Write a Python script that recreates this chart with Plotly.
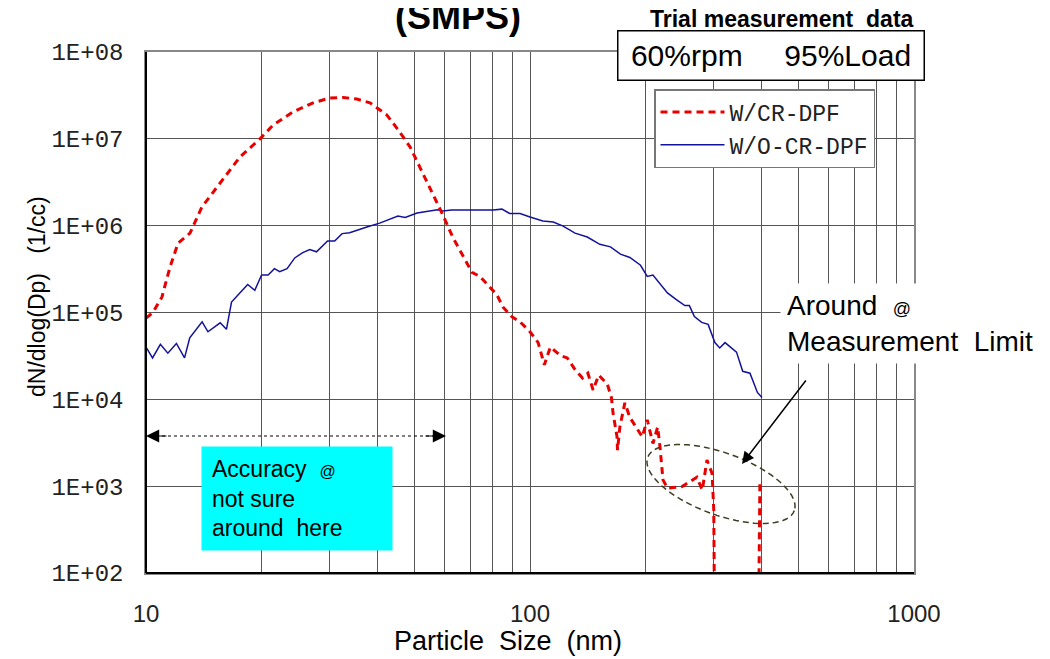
import numpy as np
import plotly.graph_objects as go

# ---------------- data ----------------
size_cr = [10.0, 10.42, 11.0, 11.54, 12.12, 13.02, 13.98, 15.13, 16.25, 17.58, 19.81, 21.43,
           24.13, 27.23, 30.1, 32.6, 35.4, 38.3, 42.4, 45.0, 48.7, 52.6, 55.8, 59.3, 62.9,
           66.5, 70.6, 74.1, 77.3, 82.0, 85.0, 89.8, 94.2, 100, 105, 109, 113, 120, 125, 131,
           137, 141.5, 146, 151, 159, 163, 164.5, 168.5, 169, 171.4, 176.6, 182, 196, 202,
           209, 215, 218, 222, 228, 249, 272, 281, 289, 298, 301, 304, 391, 397]
dn_cr = [8.6e4, 1.0e5, 1.5e5, 3.3e5, 6.3e5, 8.2e5, 1.64e6, 2.6e6, 4.0e6, 6.2e6, 1.0e7, 1.44e7,
         2.04e7, 2.6e7, 2.95e7, 3.0e7, 2.87e7, 2.6e7, 1.88e7, 1.33e7, 8.1e6, 4.0e6, 2.4e6, 1.33e6, 7.4e5,
         4.8e5, 2.9e5, 2.6e5, 2.1e5, 1.6e5, 1.16e5, 8.9e4, 7.8e4, 6.0e4, 4.5e4, 2.5e4, 4.0e4, 3.2e4, 3.0e4, 2.2e4,
         1.76e4, 2.0e4, 1.28e4, 1.9e4, 1.5e4, 1.04e4, 7.0e3, 3.7e3, 2.6e3, 4.8e3, 9.1e3, 6.2e3, 3.7e3, 5.8e3,
         3.1e3, 4.8e3, 2.85e3, 1.18e3, 9.5e2, 9.9e2, 1.27e3, 9.0e2, 2.0e3, 1.4e3, 5.3e2, 1, 1, 1.2e3]

size_nocr = [10.0, 10.4, 10.9, 11.4, 12.0, 12.6, 13.0, 14.0, 14.5, 15.6, 16.2, 16.7, 17.6, 18.4,
             19.2, 20.0, 20.8, 21.6, 22.3, 23.3, 24.4, 25.6, 26.7, 27.8, 29.7, 31.0, 32.4, 33.9,
             37.6, 40.6, 45.3, 47.3, 50.8, 54.0, 57.4, 59.3, 62.5, 80.2, 84.5, 88.5, 94.2, 100,
             108, 115, 122, 131, 141, 152, 162, 172, 182, 194, 202, 209, 228, 241, 253, 260, 268,
             280, 291, 303, 312, 322, 345, 358, 374, 391, 402]
dn_nocr = [4.0e4, 3.0e4, 4.3e4, 3.4e4, 4.4e4, 3.0e4, 5.1e4, 7.8e4, 6.0e4, 7.6e4, 6.4e4, 1.32e5, 1.7e5, 2.1e5,
           1.8e5, 2.7e5, 2.7e5, 3.2e5, 2.95e5, 3.2e5, 4.25e5, 4.9e5, 5.3e5, 5.0e5, 6.65e5, 6.65e5, 8.1e5, 8.3e5,
           9.65e5, 1.07e6, 1.29e6, 1.24e6, 1.4e6, 1.45e6, 1.52e6, 1.48e6, 1.52e6, 1.52e6, 1.55e6, 1.38e6, 1.38e6, 1.26e6,
           1.13e6, 1.10e6, 9.9e5, 8.2e5, 7.4e5, 6.1e5, 5.7e5, 4.7e5, 4.3e5, 3.5e5, 2.6e5, 2.7e5, 1.68e5, 1.4e5, 1.2e5, 1.2e5, 9.0e4,
           7.7e4, 7.3e4, 4.5e4, 3.9e4, 4.5e4, 3.5e4, 2.1e4, 2.0e4, 1.2e4, 1.05e4]

series_names = ["W/CR-DPF", "W/O-CR-DPF"]
x_tick_vals = [10, 20, 30, 40, 50, 60, 70, 80, 90, 100, 200, 300, 400, 500, 600, 700, 800, 900, 1000]
x_tick_text = ["10", "", "", "", "", "", "", "", "", "100", "", "", "", "", "", "", "", "", "1000"]
y_tick_vals = [1e2, 1e3, 1e4, 1e5, 1e6, 1e7, 1e8]
y_tick_text = ["1E+02", "1E+03", "1E+04", "1E+05", "1E+06", "1E+07", "1E+08"]

# ---------------- layout helpers (page pixels; page has an 8px body margin) ----------------
OFF = 8
W, H = 1050 - OFF, 659 - OFF
PL, PT, PR, PB = 146, 52, 914, 573          # plot area in page pixels
L, T = PL - OFF, PT - OFF
PW, PH = PR - PL, PB - PT
R, B = W - L - PW, H - T - PH


def px(x):
    return (x - PL) / PW


def py(y):
    return (PB - y) / PH


SANS = "Liberation Sans, Arial, sans-serif"
MONO = "Liberation Mono, Courier New, monospace"

fig = go.Figure()
fig.add_trace(go.Scatter(x=size_nocr, y=dn_nocr, mode="lines", name=series_names[1],
                         line=dict(color="#12129a", width=1.5)))
fig.add_trace(go.Scatter(x=size_cr, y=dn_cr, mode="lines", name=series_names[0],
                         line=dict(color="#e80000", width=3, dash="7px,5px")))

fig.update_layout(
    width=W, height=H,
    margin=dict(l=L, r=R, t=T, b=B),
    paper_bgcolor="white", plot_bgcolor="white",
    font=dict(family=SANS, color="black"),
    showlegend=True,
    legend=dict(x=px(654), y=py(89), xanchor="left", yanchor="top",
                bordercolor="#777777", borderwidth=1.5, bgcolor="white",
                font=dict(family=MONO, size=23, color="#222222"),
                traceorder="reversed", itemwidth=64, tracegroupgap=2),
    xaxis=dict(type="log", range=[1, 3], tickvals=x_tick_vals, ticktext=x_tick_text,
               showgrid=True, gridcolor="#555555", gridwidth=1,
               showline=True, mirror=True, linecolor="#888888", linewidth=1.5,
               ticks="", tickfont=dict(family=SANS, size=24, color="#222222"),
               ticklabelstandoff=18, zeroline=False),
    yaxis=dict(type="log", range=[2, 8], tickvals=y_tick_vals, ticktext=y_tick_text,
               showgrid=True, gridcolor="#555555", gridwidth=1,
               showline=True, mirror=True, linecolor="#888888", linewidth=1.5,
               ticks="", tickfont=dict(family=MONO, size=24, color="#222222"),
               ticklabelstandoff=16, zeroline=False),
)

# darker left / bottom frame lines
fig.add_shape(type="line", xref="paper", yref="paper", x0=0, x1=0, y0=0, y1=1,
              line=dict(color="black", width=2))
fig.add_shape(type="line", xref="paper", yref="paper", x0=0, x1=1, y0=0, y1=0,
              line=dict(color="black", width=2))

# dotted double arrow
ya = py(436)
fig.add_shape(type="line", xref="paper", yref="paper", x0=px(150), x1=px(442), y0=ya, y1=ya,
              line=dict(color="black", width=1, dash="dot"))
for xh, off in [(146, 22), (446, -22)]:
    fig.add_annotation(xref="paper", yref="paper", x=px(xh), y=ya, ax=off, ay=0,
                       text="", showarrow=True, arrowhead=2, arrowsize=2.2, arrowwidth=1.2,
                       arrowcolor="black")

# rotated dashed ellipse (pixel geometry -> paper)
cx, cy, a, b, ang = 721, 484, 78, 31, np.deg2rad(20)
t = np.linspace(0, 2 * np.pi, 73)
ex = cx + a * np.cos(t) * np.cos(ang) - b * np.sin(t) * np.sin(ang)
ey = cy + a * np.cos(t) * np.sin(ang) + b * np.sin(t) * np.cos(ang)
path = "M " + " L ".join(f"{px(u):.5f},{py(v):.5f}" for u, v in zip(ex, ey)) + " Z"
fig.add_shape(type="path", xref="paper", yref="paper", path=path,
              line=dict(color="#3d3d1f", width=1.5, dash="6px,4px"))

# arrow to ellipse
fig.add_annotation(xref="paper", yref="paper", x=px(742), y=py(464), ax=65, ay=-85,
                   text="", showarrow=True, arrowhead=2, arrowsize=1.6, arrowwidth=1.5,
                   arrowcolor="black")

# cyan note box
fig.add_annotation(xref="paper", yref="paper", x=px(201), y=py(446), xanchor="left", yanchor="top",
                   text="Accuracy  <span style='font-size:16px'>@</span><br>not sure<br>around  here",
                   showarrow=False, align="left", bgcolor="#00ffff", borderpad=10,
                   width=170, height=83, font=dict(family=SANS, size=23, color="black"))

# measurement limit note
fig.add_annotation(xref="paper", yref="paper", x=px(780), y=py(283), xanchor="left", yanchor="top",
                   text="Around  <span style='font-size:18px'>@</span><br>Measurement  Limit",
                   showarrow=False, align="left", bgcolor="white", borderpad=6,
                   font=dict(family=SANS, size=28, color="black"))

# condition box
fig.add_annotation(xref="paper", yref="paper", x=px(617), y=py(30), xanchor="left", yanchor="top",
                   text="60%rpm     95%Load", showarrow=False, align="center",
                   bgcolor="white", bordercolor="black", borderwidth=1.5, borderpad=0,
                   width=305, height=48, font=dict(family=SANS, size=30, color="black"))

# titles
fig.add_annotation(xref="paper", yref="paper", x=px(458), y=py(17), xanchor="center", yanchor="middle",
                   text="<b>(SMPS)</b>", showarrow=False, font=dict(family=SANS, size=36, color="black"))
fig.add_annotation(xref="paper", yref="paper", x=px(782), y=py(19), xanchor="center", yanchor="middle",
                   text="<b>Trial measurement  data</b>", showarrow=False,
                   font=dict(family=SANS, size=23, color="black"))
fig.add_annotation(xref="paper", yref="paper", x=px(508), y=py(641), xanchor="center", yanchor="middle",
                   text="Particle  Size  (nm)", showarrow=False,
                   font=dict(family=SANS, size=27, color="black"))
fig.add_annotation(xref="paper", yref="paper", x=px(37), y=py(297), xanchor="center", yanchor="middle",
                   text="dN/dlog(Dp)   (1/cc)", textangle=-90, showarrow=False,
                   font=dict(family=SANS, size=23, color="black"))

fig.write_html("out.html")
